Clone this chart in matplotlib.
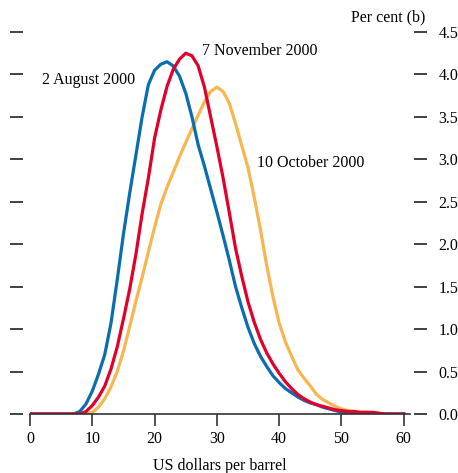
import numpy as np
import matplotlib
matplotlib.use("Agg")
import matplotlib.pyplot as plt

matplotlib.rcParams.update({
    "font.family": "serif",
    "font.serif": ["Liberation Serif", "DejaVu Serif"],
    "font.size": 11.5,
})

# price grid, US dollars per barrel
price = list(range(0, 61))

# 2 August 2000
aug = [0, 0, 0, 0, 0, 0, 0, 0, 0.03, 0.12,
       0.27, 0.47, 0.7, 1.07, 1.58, 2.12, 2.6, 3.05, 3.5, 3.88,
       4.05, 4.12, 4.15, 4.1, 3.98, 3.78, 3.5, 3.17, 2.92, 2.65,
       2.38, 2.1, 1.81, 1.5, 1.25, 1.02, 0.83, 0.68, 0.56, 0.45,
       0.37, 0.3, 0.25, 0.2, 0.16, 0.13, 0.11, 0.08, 0.06, 0.04,
       0.02, 0.01, 0, 0, 0, 0, 0, 0, 0, 0, 0]

# 10 October 2000
octo = [0, 0, 0, 0, 0, 0, 0, 0, 0, 0,
        0.02, 0.08, 0.18, 0.32, 0.5, 0.74, 1.03, 1.33, 1.61, 1.91,
        2.2, 2.47, 2.67, 2.85, 3.03, 3.2, 3.36, 3.52, 3.68, 3.8,
        3.85, 3.8, 3.66, 3.42, 3.16, 2.9, 2.55, 2.17, 1.75, 1.38,
        1.07, 0.85, 0.68, 0.52, 0.42, 0.33, 0.23, 0.17, 0.13, 0.09,
        0.06, 0.04, 0.03, 0.02, 0.02, 0.01, 0, 0, 0, 0, 0]

# 7 November 2000
nov = [0, 0, 0, 0, 0, 0, 0, 0, 0, 0.03,
       0.1, 0.2, 0.33, 0.53, 0.79, 1.12, 1.47, 1.88, 2.36, 2.78,
       3.25, 3.58, 3.86, 4.06, 4.18, 4.25, 4.22, 4.1, 3.85, 3.5,
       3.15, 2.78, 2.37, 1.95, 1.62, 1.32, 1.08, 0.88, 0.72, 0.59,
       0.48, 0.38, 0.3, 0.23, 0.18, 0.14, 0.11, 0.09, 0.07, 0.05,
       0.04, 0.03, 0.03, 0.02, 0.02, 0.02, 0.01, 0, 0, 0, 0]

xticks = [0, 10, 20, 30, 40, 50, 60]
yticks = [0.0, 0.5, 1.0, 1.5, 2.0, 2.5, 3.0, 3.5, 4.0, 4.5]

BLUE = "#0a6db0"
RED = "#e2002b"
ORANGE = "#f8b650"


def main():
    fig = plt.figure(figsize=(4.58, 4.73), dpi=100)
    ax = fig.add_axes([30 / 458, 59 / 473, 380 / 458, 382 / 473])

    ax.plot(price, octo, color=ORANGE, lw=2.3, solid_joinstyle="round")
    ax.plot(price, aug, color=BLUE, lw=2.3, solid_joinstyle="round")
    ax.plot(price, nov, color=RED, lw=2.3, solid_joinstyle="round")

    ax.set_xlim(0, 61)
    ax.set_ylim(0, 4.5)

    for s in ["top", "left", "right"]:
        ax.spines[s].set_visible(False)
    ax.spines["bottom"].set_color("#333333")
    ax.spines["bottom"].set_linewidth(1.2)

    ax.set_xticks(xticks)
    ax.tick_params(axis="x", direction="out", length=8.5, width=1.2,
                   color="#333333", pad=4)

    ax.set_yticks(yticks)
    ax.set_yticklabels(["%.1f" % v for v in yticks])
    ax.spines["left"].set_position(("outward", 5))
    ax.spines["right"].set_position(("outward", 3))
    ax.tick_params(axis="y", which="both", direction="out", length=9.4,
                   width=1.2, color="#222222", left=True, right=True,
                   labelleft=False, labelright=True, pad=8)

    ax.set_xlabel("US dollars per barrel", labelpad=8)

    ax.text(1.9, 3.93, "2 August 2000", va="center", ha="left")
    ax.text(27.6, 4.28, "7 November 2000", va="center", ha="left")
    ax.text(36.4, 2.96, "10 October 2000", va="center", ha="left")
    fig.text(425 / 458, 1 - 17 / 473, "Per cent (b)", ha="right", va="center")

    fig.savefig("out.png", dpi=100)


if __name__ == "__main__":
    main()
